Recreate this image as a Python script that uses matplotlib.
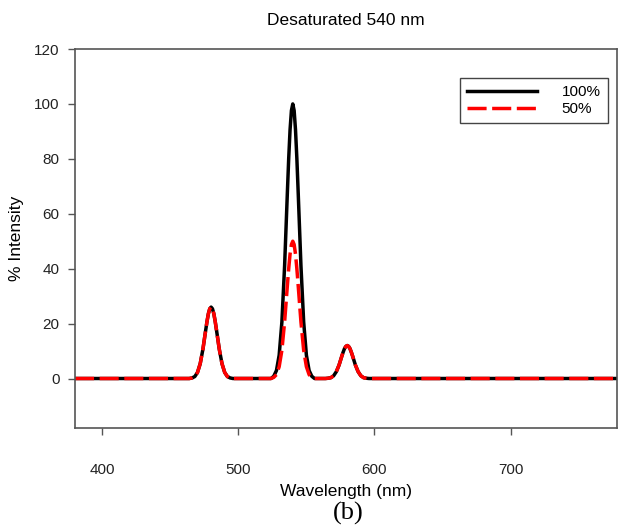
import matplotlib.pyplot as plt

plt.rcParams['font.family'] = ['Liberation Sans', 'DejaVu Sans']

# wavelength grid (nm) and intensities
wavelength = [380, 400, 420, 440, 460, 464,
              466, 468, 470, 472, 474, 476, 477, 478, 479, 480, 481, 482, 483, 484,
              486, 488, 490, 492, 494, 496,
              500, 510, 520, 524,
              526, 528, 530, 532, 534, 536, 537, 538, 539, 540, 541, 542, 543, 544,
              546, 548, 550, 552, 554, 556,
              560, 564,
              566, 568, 570, 572, 574, 576, 577, 578, 579, 580, 581, 582, 583, 584,
              586, 588, 590, 592, 594, 596,
              600, 620, 640, 660, 680, 700, 720, 740, 760, 780]

full = [0, 0, 0, 0, 0, 0,
        0.2, 0.7, 2.2, 5.4, 10.7, 17.5, 20.8, 23.6, 25.4, 26.0, 25.4, 23.6, 20.8, 17.5,
        10.7, 5.4, 2.2, 0.7, 0.2, 0,
        0, 0, 0, 0,
        0.8, 2.9, 8.5, 20.6, 41.1, 67.4, 80.1, 90.6, 97.6, 100.0, 97.6, 90.6, 80.1, 67.4,
        41.1, 20.6, 8.5, 2.9, 0.8, 0,
        0, 0,
        0.1, 0.3, 1.0, 2.5, 4.9, 8.1, 9.6, 10.9, 11.7, 12.0, 11.7, 10.9, 9.6, 8.1,
        4.9, 2.5, 1.0, 0.3, 0.1, 0,
        0, 0, 0, 0, 0, 0, 0, 0, 0, 0]

half = [0, 0, 0, 0, 0, 0,
        0.2, 0.7, 2.2, 5.4, 10.7, 17.5, 20.8, 23.6, 25.4, 26.0, 25.4, 23.6, 20.8, 17.5,
        10.7, 5.4, 2.2, 0.7, 0.2, 0,
        0, 0, 0, 0,
        0.4, 1.4, 4.3, 10.3, 20.6, 33.7, 40.0, 45.3, 48.8, 50.0, 48.8, 45.3, 40.0, 33.7,
        20.6, 10.3, 4.3, 1.4, 0.4, 0,
        0, 0,
        0.1, 0.3, 1.0, 2.5, 4.9, 8.1, 9.6, 10.9, 11.7, 12.0, 11.7, 10.9, 9.6, 8.1,
        4.9, 2.5, 1.0, 0.3, 0.1, 0,
        0, 0, 0, 0, 0, 0, 0, 0, 0, 0]

x_ticks = [400, 500, 600, 700]
y_ticks = [0, 20, 40, 60, 80, 100, 120]

fig = plt.figure(figsize=(6.3, 5.27), dpi=100)
ax = fig.add_axes([0.119, 0.188, 0.860, 0.719])

ax.plot(wavelength, full, color='black', lw=2.5, label='100%')
ax.plot(wavelength, half, color='#ff0000', lw=2.5, dashes=(5.5, 1.6), label='50%')

ax.set_xlim(380, 778)
ax.set_ylim(-18, 120)
ax.set_xticks(x_ticks)
ax.set_yticks(y_ticks)

for s in ax.spines.values():
    s.set_color('#555555')
    s.set_linewidth(1.2)
ax.tick_params(direction='out', length=5, width=1, color='#555555',
               labelsize=11, labelcolor='#222222', top=False, right=False)
ax.tick_params(axis='x', pad=20)
ax.tick_params(axis='y', pad=6)

ax.set_title('Desaturated 540 nm', fontsize=12.5, pad=17)
ax.set_xlabel('Wavelength (nm)', fontsize=12.5, labelpad=5)
ax.set_ylabel('% Intensity', fontsize=12.5, labelpad=7)

leg = ax.legend(loc='upper right', bbox_to_anchor=(0.983, 0.923), borderaxespad=0,
                fancybox=False, framealpha=1, edgecolor='#444444',
                handlelength=4.6, handletextpad=1.6, fontsize=11,
                borderpad=0.45, labelspacing=0.2)
leg.get_frame().set_linewidth(1.0)

fig.text(0.553, 0.026, '(b)', fontsize=19, family='Liberation Serif', ha='center', va='center')

fig.savefig('out.png', dpi=100)
